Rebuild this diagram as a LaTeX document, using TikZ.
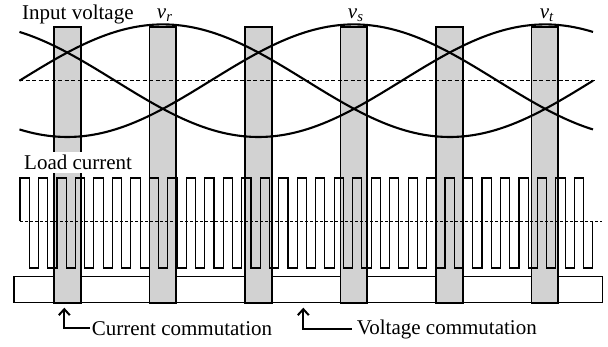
\documentclass[tikz,border=0pt]{standalone}
\usepackage{fontspec}
\setmainfont{Liberation Serif}
\usetikzlibrary{arrows.meta,positioning}

\begin{document}
\begin{tikzpicture}[x=1pt,y=-1pt,>={Straight Barb[length=6pt,width=11pt]},
 every node/.style={font=\fontsize{21}{25}\selectfont,inner sep=0pt},
 slot/.style={draw,line width=1.8pt,fill=gray!35},
 wave/.style={line width=2.1pt},
 pulse/.style={line width=1.1pt},
 zeroline/.style={line width=1.5pt,dash pattern=on 4pt off 2.5pt}]
    \useasboundingbox (0,0) rectangle (608,347);
    % gate signal strip and commutation slots
    \draw[line width=1.2pt] (14,276.7) rectangle (602.5,302.7);
    \foreach \i in {0,...,5}
      \draw[slot] ({19.5+95.5*(\i+0.5)-13.35},27.3) rectangle ++(26.7,275.4);
    % input voltages
    \draw[zeroline] (19,80.7) -- (595.7,80.7);
    \draw[wave] plot[domain=19.5:593,samples=120,variable=\x]
      (\x,{80.7-56.3*sin(0.627724*(\x-19.5))});
    \draw[wave] plot[domain=19.5:593,samples=120,variable=\x]
      (\x,{80.7-56.3*sin(0.627724*(\x-19.5)-120)});
    \draw[wave] plot[domain=19.5:593,samples=120,variable=\x]
      (\x,{80.7-56.3*sin(0.627724*(\x-19.5)-240)});
    % load current
    \draw[zeroline,line width=1.3pt,dash pattern=on 3pt off 2pt] (20,221.5) -- (601.7,221.5);
    \draw[pulse] (20,221.5) -- (20,178)
      \foreach \k in {1,...,30}{ -- ++(9.24,0) -- ++(0,90) -- ++(9.24,0) -- ++(0,-90)}
      -- ++(9.24,0) -- ++(0,90) -- ++(9.24,0) -- ++(0,-46.5);
    % labels
    \node[anchor=base west] (vin) at (22,19.3) {Input voltage};
    \node[anchor=base] (vr) at (164.7,18.3) {\textit{v\textsubscript{r}}};
    \node[anchor=base] (vs) at (355.7,18.3) {\textit{v\textsubscript{s}}};
    \node[anchor=base] (vt) at (546.7,18.3) {\textit{v\textsubscript{t}}};
    \node[anchor=base west,fill=white,inner xsep=2pt,inner ysep=3pt] (iload)
      at (22,169.3) {Load current};
    \node[anchor=west,inner xsep=1.5pt] (curlab) at (90.2,328.5) {Current commutation};
    \node[anchor=west,inner xsep=5pt] (vollab) at (351.7,329.5) {Voltage commutation};
    \coordinate (curtip) at (64.3,307.7);
    \coordinate (voltip) at (303.3,307.7);
    \draw[->,line width=2pt] (curlab.west) -| (curtip);
    \draw[->,line width=2pt] (vollab.west) -| (voltip);
\end{tikzpicture}
\end{document}
